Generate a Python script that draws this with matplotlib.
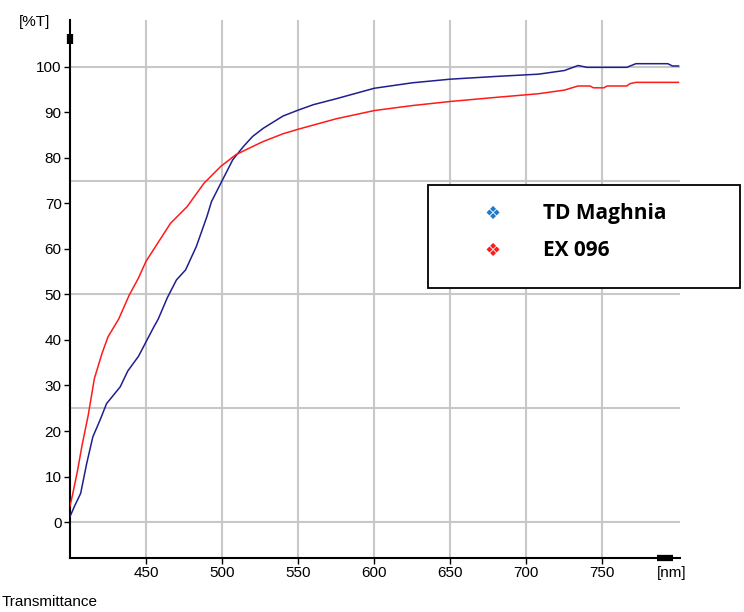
import matplotlib
matplotlib.use("Agg")
import matplotlib.pyplot as plt

# Wavelength grid (nm) and transmittance (%T) for each sample
wl_td = [400, 403, 407, 411, 415, 420, 424, 433, 438, 445, 450, 455, 458, 464,
         470, 476, 483, 490, 493, 500, 507, 514, 520, 527, 540, 550, 560, 575,
         600, 625, 650, 680, 708, 725, 734, 740, 766, 772, 793, 796, 800]
t_td = [1.2, 3.5, 6.3, 12.9, 18.7, 22.6, 26.0, 29.7, 33.2, 36.4, 39.6, 42.8, 44.6, 49.3,
        53.2, 55.4, 60.5, 67.1, 70.4, 75, 79.6, 82.5, 84.7, 86.5, 89.2, 90.5, 91.7, 93,
        95.3, 96.5, 97.3, 97.9, 98.4, 99.2, 100.3, 99.9, 99.9, 100.7, 100.7, 100.2, 100.2]

wl_ex = [400, 402, 405, 408, 412, 414, 416, 421, 425, 432, 439, 445, 450, 466, 477, 488,
         499, 509, 520, 527, 540, 550, 575, 600, 625, 650, 680, 708, 725,
         734, 742, 744, 751, 753, 766, 768, 772, 800]
t_ex = [3.5, 6.5, 11.4, 17.0, 23.5, 27.5, 31.5, 37.0, 40.7, 44.6, 49.9, 53.6, 57.3, 65.6, 69.3, 74.4,
        78.1, 80.7, 82.5, 83.6, 85.3, 86.3, 88.6, 90.4, 91.5, 92.4, 93.3, 94.1, 94.9,
        95.8, 95.8, 95.4, 95.4, 95.8, 95.8, 96.3, 96.6, 96.6]

x_ticks = [450, 500, 550, 600, 650, 700, 750]
y_ticks = [0, 10, 20, 30, 40, 50, 60, 70, 80, 90, 100]
y_grid = [0, 25, 50, 75, 100]
series_names = ["TD Maghnia", "EX 096"]

tick_font = ["Liberation Sans Narrow", "Liberation Sans", "DejaVu Sans"]

fig = plt.figure(figsize=(7.44, 6.12), dpi=100)
ax = fig.add_axes([70 / 744, 54 / 612, 610 / 744, 538 / 612])
ax.set_xlim(400, 801)
ax.set_ylim(-7.9, 110.3)

grid_c = "#c8c8c8"
for x in x_ticks:
    ax.axvline(x, color=grid_c, lw=1.5, zorder=1)
for y in y_grid:
    ax.axhline(y, color=grid_c, lw=1.5, zorder=1)

ax.plot(wl_td, t_td, color="#1f1f8f", lw=1.1, zorder=3)
ax.plot(wl_ex, t_ex, color="#ff1a1a", lw=1.1, zorder=3)

for s in ["top", "right"]:
    ax.spines[s].set_visible(False)
for s in ["left", "bottom"]:
    ax.spines[s].set_linewidth(1.5)
    ax.spines[s].set_color("black")

ax.set_xticks(x_ticks)
ax.set_yticks(y_ticks)
ax.tick_params(direction="out", length=4, width=1, pad=2, labelsize=11)
for lab in ax.get_xticklabels() + ax.get_yticklabels():
    lab.set_family(tick_font)

# Axis arrow heads
ax.plot([0, 0], [0.955, 0.974], transform=ax.transAxes, color="black", lw=4.5,
        solid_capstyle="butt", clip_on=False, zorder=5)
ax.plot([0.962, 0.989], [0, 0], transform=ax.transAxes, color="black", lw=4.5,
        solid_capstyle="butt", clip_on=False, zorder=5)

fig.text(19 / 744, 1 - 22 / 612, "[%T]", fontsize=11, family=tick_font,
         ha="left", va="center")
fig.text(657 / 744, 1 - 573 / 612, "[nm]", fontsize=11, family=tick_font,
         ha="left", va="center")
fig.text(2 / 744, 1 - 602 / 612, "Transmittance", fontsize=11, family=tick_font,
         ha="left", va="center")

# Legend box
box = plt.Rectangle((428 / 744, 1 - 288 / 612), 312 / 744, 103 / 612,
                    transform=fig.transFigure, facecolor="white",
                    edgecolor="black", lw=1.3, zorder=10)
fig.add_artist(box)
for i, (name, col) in enumerate(zip(series_names, ["#1f78c8", "#ff1a1a"])):
    yy = 1 - (214 + 37 * i) / 612
    fig.text(493 / 744, yy, "\u2756", color=col, fontsize=13, ha="center",
             va="center", family="DejaVu Sans", zorder=11)
    fig.text(543 / 744, yy, name, fontsize=15, fontweight="bold",
             family=["Open Sans", "DejaVu Sans"], ha="left", va="center",
             zorder=11)

fig.savefig("out.png", dpi=100)
